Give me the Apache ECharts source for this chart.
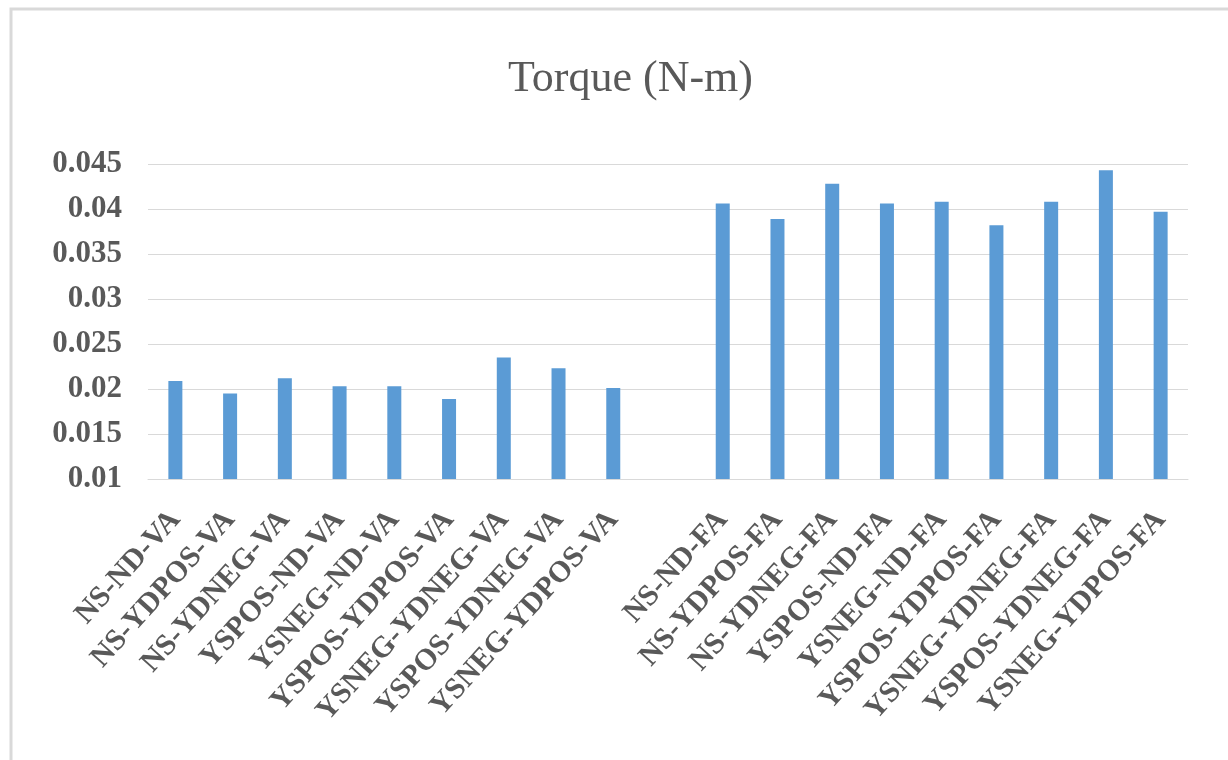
<!DOCTYPE html>
<html>
<head>
<meta charset="utf-8">
<script src="https://cdn.jsdelivr.net/npm/echarts@6/dist/echarts.min.js"></script>
<style>
html,body{margin:0;padding:0;background:#fff;}
#chart{width:1228px;height:760px;}
</style>
</head>
<body>
<div id="chart"></div>
<script>
const categories = [
  'NS-ND-VA','NS-YDPOS-VA','NS-YDNEG-VA','YSPOS-ND-VA','YSNEG-ND-VA',
  'YSPOS-YDPOS-VA','YSNEG-YDNEG-VA','YSPOS-YDNEG-VA','YSNEG-YDPOS-VA',
  '',
  'NS-ND-FA','NS-YDPOS-FA','NS-YDNEG-FA','YSPOS-ND-FA','YSNEG-ND-FA',
  'YSPOS-YDPOS-FA','YSNEG-YDNEG-FA','YSPOS-YDNEG-FA','YSNEG-YDPOS-FA'
];
const torque = [
  0.0209, 0.0195, 0.0212, 0.0203, 0.0203, 0.0189, 0.0235, 0.0223, 0.0201,
  null,
  0.0406, 0.0389, 0.0428, 0.0406, 0.0408, 0.0382, 0.0408, 0.0443, 0.0397
];
const yTicks = [0.01, 0.015, 0.02, 0.025, 0.03, 0.035, 0.04, 0.045];
const titleText = 'Torque (N-m)';

const chart = echarts.init(document.getElementById('chart'), null, {renderer: 'canvas'});
const serif = "'Liberation Serif', 'DejaVu Serif', serif";
chart.setOption({
  backgroundColor: '#ffffff',
  animation: false,
  title: {
    text: titleText,
    left: 503,
    top: 52,
    textStyle: {fontFamily: serif, fontSize: 44, fontWeight: 'normal', color: '#595959'}
  },
  graphic: [{
    type: 'polyline',
    shape: {points: [[11, 760], [11, 9], [1228, 9]]},
    style: {stroke: '#d9d9d9', lineWidth: 3, fill: null},
    silent: true
  }],
  grid: {left: 148, right: 40, top: 164, bottom: 281, containLabel: false},
  xAxis: {
    type: 'category',
    data: categories,
    axisTick: {show: false},
    axisLine: {lineStyle: {color: '#d9d9d9', width: 1}},
    axisLabel: {
      interval: 0, rotate: 48, margin: 36,
      fontFamily: serif, fontSize: 30, fontWeight: 'bold', color: '#595959'
    }
  },
  yAxis: {
    type: 'value',
    min: yTicks[0],
    max: yTicks[yTicks.length - 1],
    interval: 0.005,
    axisLine: {show: false},
    axisTick: {show: false},
    splitLine: {lineStyle: {color: '#d9d9d9', width: 1}},
    axisLabel: {
      margin: 26,
      fontFamily: serif, fontSize: 31, fontWeight: 'bold', color: '#595959',
      formatter: v => String(+v.toFixed(3))
    }
  },
  series: [{
    type: 'bar',
    data: torque,
    barWidth: 14,
    itemStyle: {color: '#5b9bd5'}
  }]
});
</script>
</body>
</html>
